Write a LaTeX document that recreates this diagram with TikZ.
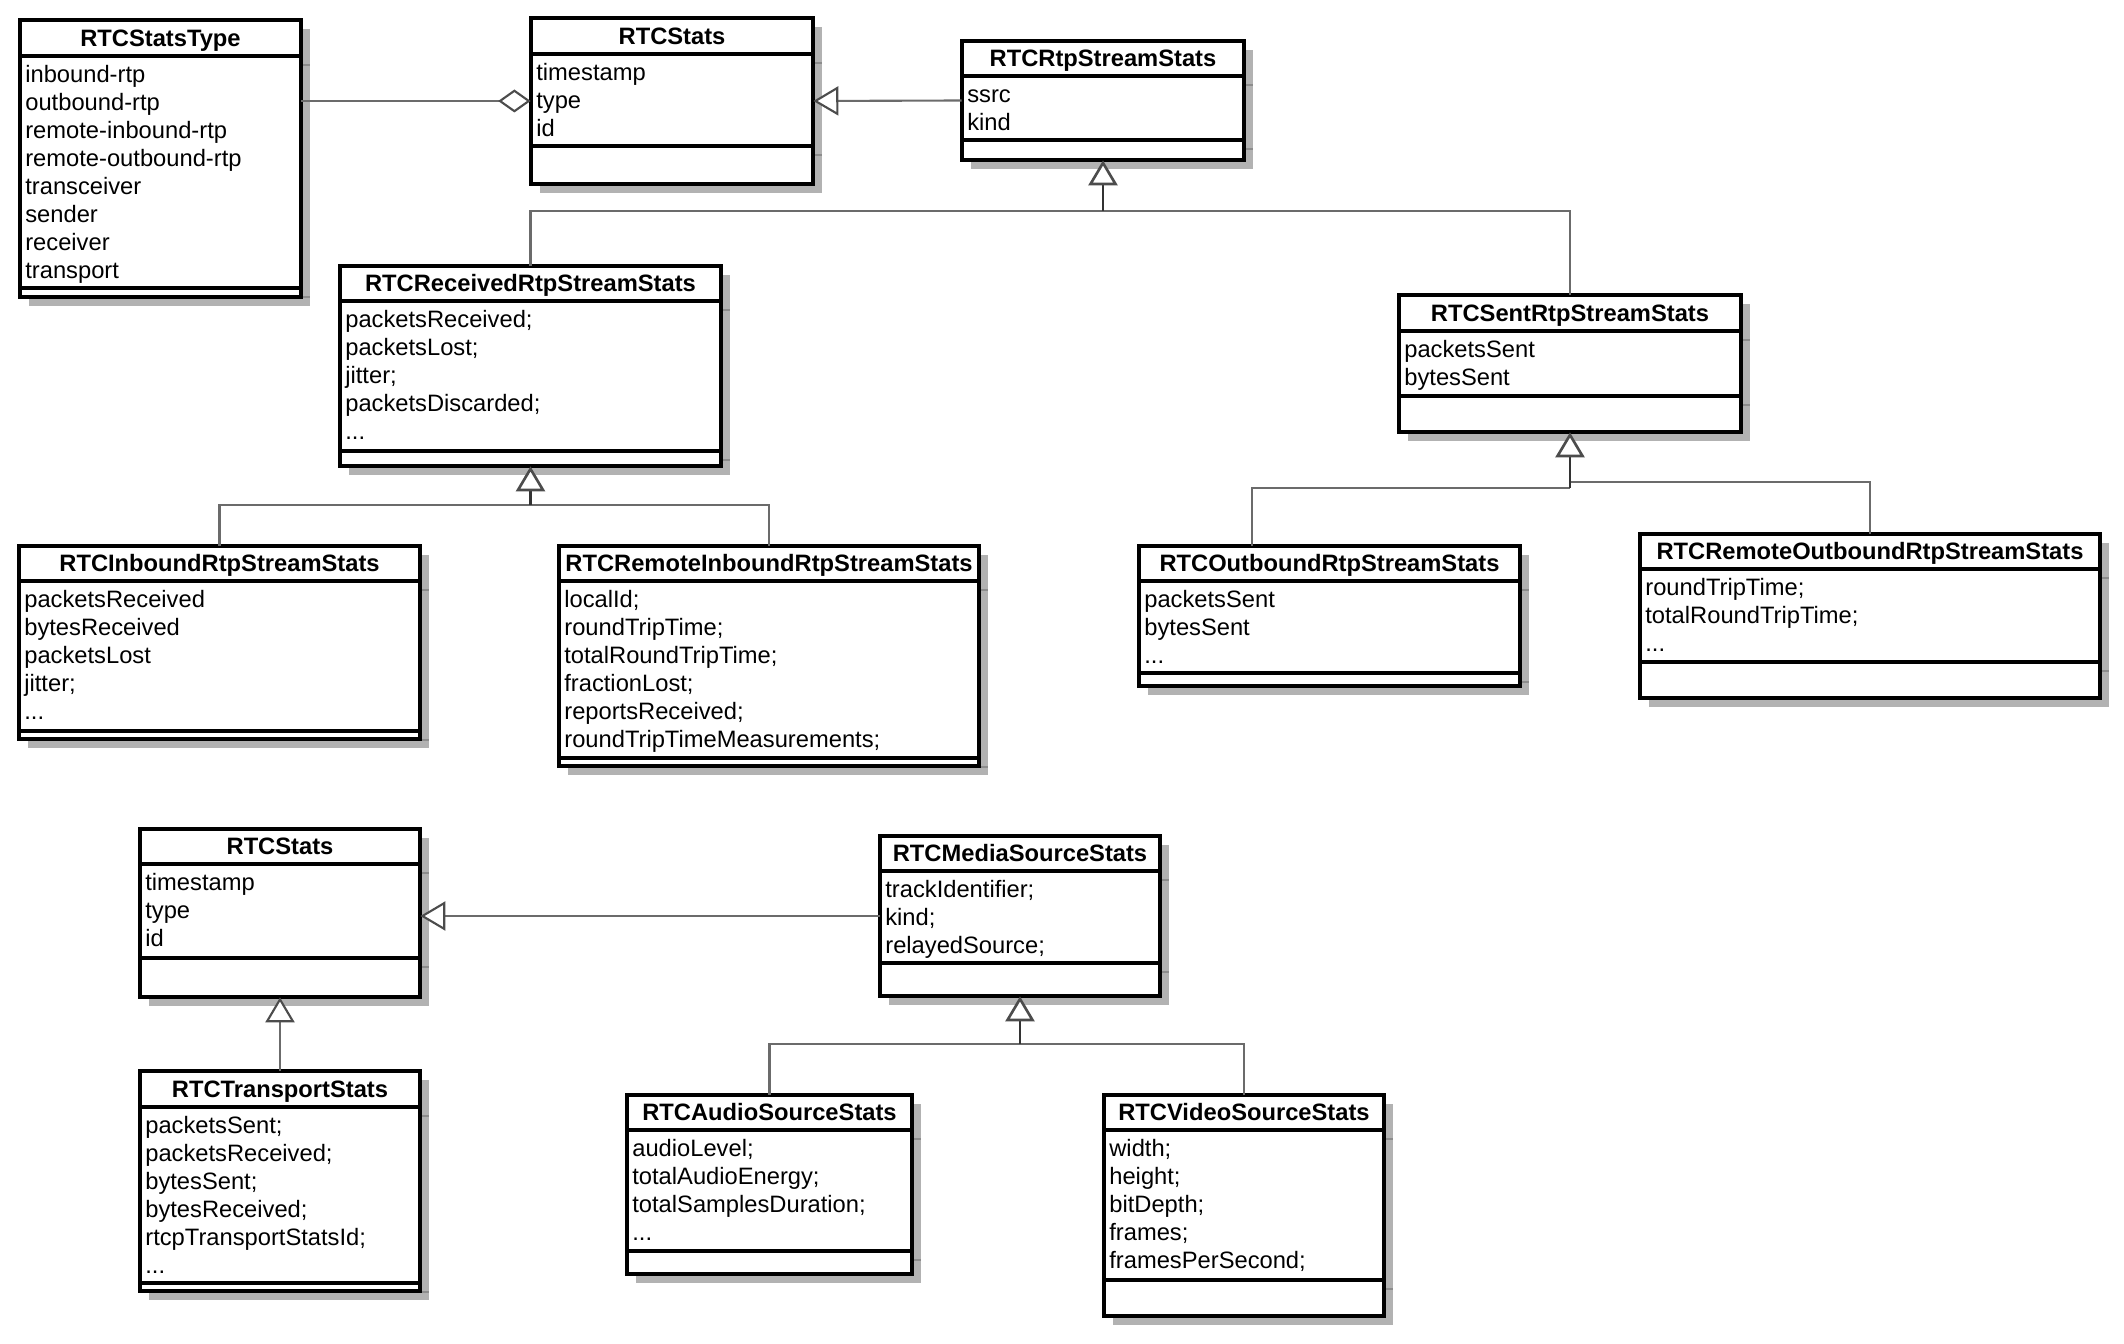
\documentclass[tikz,border=0pt]{standalone}
\usepackage{fontspec}
\setmainfont{Liberation Sans}
\usetikzlibrary{arrows.meta,fit,calc}

% class box: name, left, top, right, title line, attribute line, bottom, title, attributes
\newcommand{\umlclass}[9]{%
  \fill[shade box] ({#2+9},{#3+9}) rectangle ({#4+9},{#7+9});
  \draw[shade line] (#4,{#5+9}) -- ({#4+9},{#5+9}) (#4,{#6+9}) -- ({#4+9},{#6+9});
  \draw[class border, fill=white] (#2,#3) rectangle (#4,#7);
  \draw[class border] (#2,#5) -- (#4,#5) (#2,#6) -- (#4,#6);
  \node[fit={(#2,#3) (#4,#7)}, inner sep=0pt] (#1) {};
  \node[class title] (#1-name) at ({(#2+#4)/2},{#5-9.5}) {#8};
  \node[class attrs] (#1-attrs) at ({#2+5},{#5+6.6}) {\strut #9};
}

\begin{document}
\begin{tikzpicture}[x=0.02cm, y=-0.02cm,
    class border/.style={draw=black, line width=1.8pt},
    shade box/.style={fill=black!30},
    shade line/.style={draw=black!45, line width=1.2pt},
    class title/.style={font=\fontsize{13.5}{15.9}\selectfont\bfseries, inner sep=0pt, anchor=base},
    class attrs/.style={font=\fontsize{13.5}{15.9}\selectfont, anchor=north west,
      align=left, inner sep=0pt},
    relline/.style={draw=black!58, line width=1.2pt},
    gen/.style={relline, -{Triangle[length=0.5cm, width=0.58cm, fill=white, color=black!70]}},
    stem/.style={gen, draw=black!80, line width=1.5pt},
    aggr/.style={relline, -{Diamond[length=0.65cm, width=0.46cm, fill=white, color=black!70]}}]
    \useasboundingbox (0,0) rectangle (2124,1344);

    % Coordinates are pixels of the page, y going down.
    \umlclass{type}{20}{20}{301}{56}{288}{297}{RTCStatsType}
      {inbound-rtp\\outbound-rtp\\remote-inbound-rtp\\remote-outbound-rtp\\transceiver\\sender\\receiver\\transport}
    \umlclass{stats}{531}{18}{813}{54}{146}{184}{RTCStats}
      {timestamp\\type\\id}
    \umlclass{rtp}{962}{41}{1244}{76}{140}{160}{RTCRtpStreamStats}
      {ssrc\\kind}
    \umlclass{recv}{340}{266}{721}{301}{451}{466}{RTCReceivedRtpStreamStats}
      {packetsReceived;\\packetsLost;\\jitter;\\packetsDiscarded;\\...}
    \umlclass{sent}{1399}{295}{1741}{331}{396}{432}{RTCSentRtpStreamStats}
      {packetsSent\\bytesSent}
    \umlclass{inb}{19}{546}{420}{581}{731}{739}{RTCInboundRtpStreamStats}
      {packetsReceived\\bytesReceived\\packetsLost\\jitter;\\...}
    \umlclass{rinb}{559}{546}{979}{581}{758}{766}{RTCRemoteInboundRtpStreamStats}
      {localId;\\roundTripTime;\\totalRoundTripTime;\\fractionLost;\\reportsReceived;\\roundTripTimeMeasurements;}
    \umlclass{outb}{1139}{546}{1520}{581}{673}{686}{RTCOutboundRtpStreamStats}
      {packetsSent\\bytesSent\\...}
    \umlclass{routb}{1640}{534}{2100}{569}{662}{698}{RTCRemoteOutboundRtpStreamStats}
      {roundTripTime;\\totalRoundTripTime;\\...}

    % second diagram
    \umlclass{statsb}{140}{829}{420}{864}{958}{997}{RTCStats}
      {timestamp\\type\\id}
    \umlclass{media}{880}{836}{1160}{871}{963}{996}{RTCMediaSourceStats}
      {trackIdentifier;\\kind;\\relayedSource;}
    \umlclass{transport}{140}{1071}{420}{1107}{1283}{1291}{RTCTransportStats}
      {packetsSent;\\packetsReceived;\\bytesSent;\\bytesReceived;\\rtcpTransportStatsId;\\...}
    \umlclass{audio}{627}{1095}{912}{1130}{1251}{1274}{RTCAudioSourceStats}
      {audioLevel;\\totalAudioEnergy;\\totalSamplesDuration;\\...}
    \umlclass{video}{1104}{1095}{1384}{1130}{1280}{1316}{RTCVideoSourceStats}
      {width;\\height;\\bitDepth;\\frames;\\framesPerSecond;}

    % junctions of the inheritance trees
    \coordinate (jrtp) at (1103,211);
    \coordinate (jrecv) at (530.5,505);
    \coordinate (jsent) at (1570,488);
    \coordinate (jsentr) at (1570,482);
    \coordinate (jmedia) at (1020,1044);

    \draw[aggr] (type.east |- stats.west) -- (stats.west);
    \draw[gen] (rtp.west) -- (stats.east);
    \draw[relline] (recv.north) |- (jrtp);
    \draw[relline] (sent.north) |- (jrtp);
    \draw[stem] (jrtp) -- (rtp.south);
    \draw[relline] (inb.north) |- (jrecv);
    \draw[relline] (rinb.north) |- (jrecv);
    \draw[stem] (jrecv) -- (recv.south);
    \draw[relline] ($(outb.north west)+(113,0)$) |- (jsent);
    \draw[relline] (routb.north) |- (jsentr);
    \draw[stem] (jsent) -- (sent.south);

    \draw[gen] (media.west) -- (media.west -| statsb.east);
    \draw[gen] (transport.north) -- (statsb.south);
    \draw[relline] (audio.north) |- (jmedia);
    \draw[relline] (video.north) |- (jmedia);
    \draw[stem] (jmedia) -- (media.south);
\end{tikzpicture}
\end{document}
